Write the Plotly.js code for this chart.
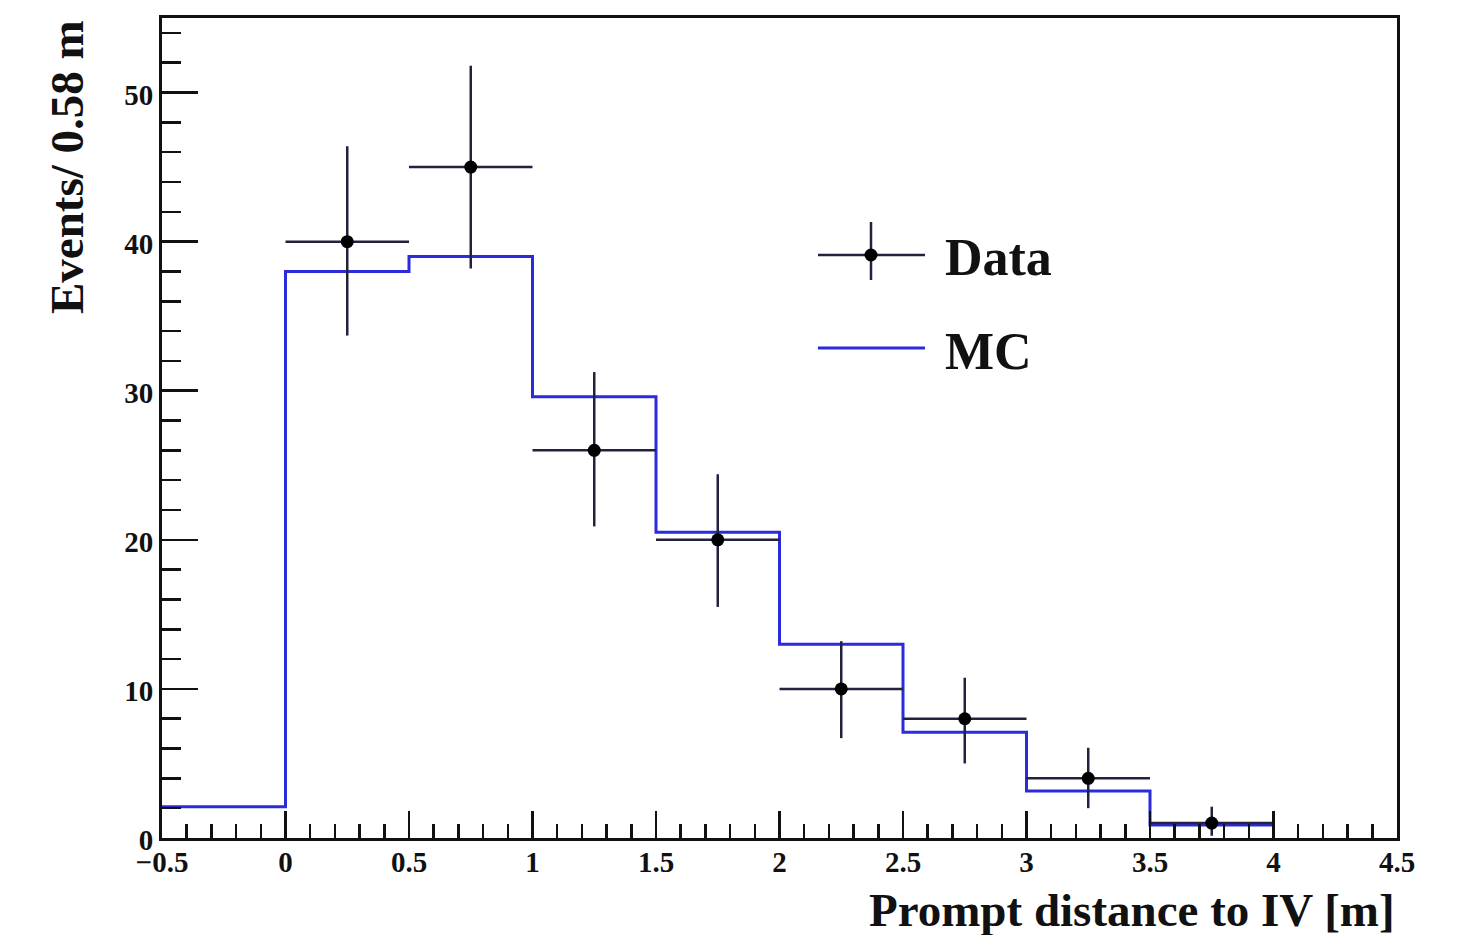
<!DOCTYPE html>
<html>
<head>
<meta charset="utf-8">
<script src="https://cdn.plot.ly/plotly-3.0.1.min.js"></script>
<style>html,body{margin:0;padding:0;background:#fff;}#chart{width:1461px;height:935px;}</style>
</head>
<body>
<div id="chart"></div>
<script>
// Data points (bin centres), counts and asymmetric (Poisson) errors
var dataX = [0.25, 0.75, 1.25, 1.75, 2.25, 2.75, 3.25, 3.75];
var dataY = [40, 45, 26, 20, 10, 8, 4, 1];
var dataErrUp = [6.4, 6.8, 5.25, 4.4, 3.2, 2.75, 2.05, 1.1];
var dataErrDown = [6.3, 6.8, 5.1, 4.5, 3.3, 3.0, 2.0, 0.85];
var dataHalfWidth = 0.25;

// MC histogram: bin edges and contents
var mcEdges = [-0.5, 0, 0.5, 1, 1.5, 2, 2.5, 3, 3.5, 4];
var mcValues = [2.1, 38.0, 39.0, 29.6, 20.5, 13.0, 7.1, 3.15, 0.87];

// Axis ticks
var xTickVals = [-0.5, 0, 0.5, 1, 1.5, 2, 2.5, 3, 3.5, 4, 4.5];
var xTickText = ["\u22120.5", "0", "0.5", "1", "1.5", "2", "2.5", "3", "3.5", "4", "4.5"];
var yTickVals = [0, 10, 20, 30, 40, 50];
var yTickText = ["0", "10", "20", "30", "40", "50"];

var navy = '#22223e';
var blue = '#2b2bdc';
var serif = 'Liberation Serif, Times New Roman, serif';

var mcY = mcValues.concat([mcValues[mcValues.length - 1]]);

var traces = [
  {
    type: 'scatter', mode: 'lines', name: 'MC',
    x: mcEdges, y: mcY,
    line: {shape: 'hv', color: blue, width: 3},
    showlegend: false, hoverinfo: 'skip', cliponaxis: true
  },
  {
    type: 'scatter', mode: 'markers', name: 'Data',
    x: dataX, y: dataY,
    marker: {color: '#000', size: 13},
    error_y: {type: 'data', symmetric: false, array: dataErrUp, arrayminus: dataErrDown, color: navy, thickness: 2.5, width: 0},
    error_x: {type: 'constant', value: dataHalfWidth, color: navy, thickness: 2.5, width: 0},
    showlegend: false
  }
];

function px2x(p) { return (p - 162) / 1235; }
function px2y(p) { return (838 - p) / 820; }

var shapes = [
  // legend: Data
  {type: 'line', xref: 'paper', yref: 'paper', x0: px2x(818), x1: px2x(925), y0: px2y(255), y1: px2y(255), line: {color: navy, width: 2.5}},
  {type: 'line', xref: 'paper', yref: 'paper', x0: px2x(871), x1: px2x(871), y0: px2y(222), y1: px2y(280), line: {color: navy, width: 2.5}},
  {type: 'circle', xref: 'paper', yref: 'paper', xsizemode: 'pixel', ysizemode: 'pixel', xanchor: px2x(871), yanchor: px2y(255), x0: -6.5, x1: 6.5, y0: -6.5, y1: 6.5, fillcolor: '#000', line: {width: 0}},
  // legend: MC
  {type: 'line', xref: 'paper', yref: 'paper', x0: px2x(818), x1: px2x(925), y0: px2y(348), y1: px2y(348), line: {color: blue, width: 3}}
];

var annotations = [
  {xref: 'paper', yref: 'paper', x: px2x(943), y: px2y(257), xanchor: 'left', yanchor: 'middle', text: 'Data', showarrow: false, font: {family: serif, size: 52, weight: 'bold', color: '#111'}},
  {xref: 'paper', yref: 'paper', x: px2x(943), y: px2y(351), xanchor: 'left', yanchor: 'middle', text: 'MC', showarrow: false, font: {family: serif, size: 52, weight: 'bold', color: '#111'}},
  {xref: 'paper', yref: 'paper', x: 1, y: px2y(910), xanchor: 'right', yanchor: 'middle', text: 'Prompt distance to IV [m]', showarrow: false, font: {family: serif, size: 47, weight: 'bold', color: '#111'}},
  {xref: 'paper', yref: 'paper', x: px2x(67), y: 1.0, xanchor: 'center', yanchor: 'top', textangle: -90, text: 'Events/ 0.58 m', showarrow: false, font: {family: serif, size: 47, weight: 'bold', color: '#111'}}
];

var layout = {
  width: 1461, height: 935,
  margin: {l: 162, r: 64, t: 18, b: 97},
  paper_bgcolor: '#fff', plot_bgcolor: '#fff',
  showlegend: false,
  xaxis: {
    range: [-0.5, 4.5], tickmode: 'array', tickvals: xTickVals, ticktext: xTickText,
    ticks: 'inside', ticklen: 27, tickwidth: 2.5, tickcolor: '#111',
    minor: {dtick: 0.1, ticks: 'inside', ticklen: 14, tickwidth: 2.5, tickcolor: '#111'},
    showgrid: false, zeroline: false,
    showline: true, mirror: true, linecolor: '#111', linewidth: 3,
    tickfont: {family: serif, size: 29, weight: 'bold', color: '#111'},
    ticklabelstandoff: -4,
    fixedrange: true
  },
  yaxis: {
    range: [0, 55], tickmode: 'array', tickvals: yTickVals, ticktext: yTickText,
    ticks: 'inside', ticklen: 36, tickwidth: 2.5, tickcolor: '#111',
    minor: {dtick: 2, ticks: 'inside', ticklen: 19, tickwidth: 2.5, tickcolor: '#111'},
    showgrid: false, zeroline: false,
    showline: true, mirror: true, linecolor: '#111', linewidth: 3,
    tickfont: {family: serif, size: 29, weight: 'bold', color: '#111'},
    ticklabelshift: 2,
    fixedrange: true
  },
  shapes: shapes,
  annotations: annotations
};

Plotly.newPlot('chart', traces, layout, {displayModeBar: false, staticPlot: true});
</script>
</body>
</html>
